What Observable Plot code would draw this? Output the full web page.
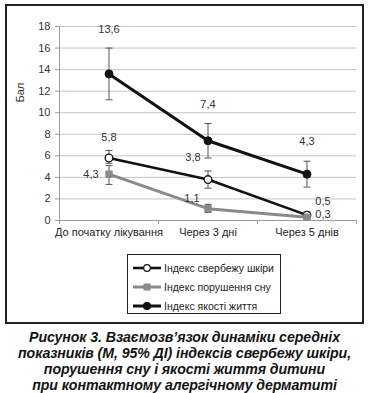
<!DOCTYPE html>
<html>
<head>
<meta charset="utf-8">
<script src="https://cdn.jsdelivr.net/npm/d3@7"></script>
<script src="https://cdn.jsdelivr.net/npm/@observablehq/plot@0.6"></script>
<style>
  body { margin: 0; width: 369px; height: 393px; background: #fff; position: relative; font-family: "Liberation Sans", Arial, sans-serif; overflow: hidden; }
  #frame { position: absolute; left: 5px; top: 4px; width: 355px; height: 316px; border: 2px solid #222; }
  #chart { position: absolute; left: 0; top: 0; }
  #legend { position: absolute; left: 120px; top: 248px; width: 154px; height: 60px; border: 1px solid #222; box-sizing: border-box; font-size: 10.5px; color: #222; }
  .item { position: absolute; left: 5px; height: 14px; display: flex; align-items: center; white-space: nowrap; }
  .item svg { margin-right: 2px; }
  #caption { position: absolute; left: 0; top: 329px; width: 369px; text-align: center; font-weight: bold; font-style: italic; font-size: 14.2px; line-height: 16px; color: #141414; letter-spacing: -0.1px; }
</style>
</head>
<body>
<div id="frame">
  <div id="chart"></div>
  <div id="legend"></div>
</div>
<div id="caption">Рисунок 3. Взаємозв’язок динаміки середніх<br>показників (М, 95% ДІ) індексів свербежу шкіри,<br>порушення сну і якості життя дитини<br>при контактному алергічному дерматиті</div>
<script>
// ---- data ----
const categories = ["До початку лікування", "Через 3 дні", "Через 5 днів"];
const seriesNames = ["Індекс свербежу шкіри", "Індекс порушення сну", "Індекс якості життя"];
const itch = [5.8, 3.8, 0.5];
const itchLo = [5.3, 3.0, 0.3];
const itchHi = [6.5, 4.6, 0.8];
const sleep = [4.3, 1.1, 0.3];
const sleepLo = [3.35, 0.75, 0.1];
const sleepHi = [5.1, 1.5, 0.5];
const quality = [13.6, 7.4, 4.3];
const qualityLo = [11.2, 5.8, 3.1];
const qualityHi = [16.0, 9.0, 5.5];
const yTicks = [0, 2, 4, 6, 8, 10, 12, 14, 16, 18];

// ---- styles (layout, not data) ----
const styles = [
  {stroke: "#111", width: 2.6, fill: "#fff", symbol: "circle", r: 3.8},
  {stroke: "#8a8a8a", width: 3, fill: "#8a8a8a", symbol: "square", r: 3.6},
  {stroke: "#111", width: 3, fill: "#111", symbol: "circle", r: 4}
];
// label offsets per series, per category [dx, dy, anchorOn]
const labelPlace = [
  [[0, -13, "hi"], [-15, -13, "hi"], [16, -14, "v"]],
  [[-18, 0, "v"], [-16, -10, "v"], [16, -3, "v"]],
  [[0, -19, "hi"], [0, -19, "hi"], [0, -20, "hi"]]
];

const vals = [itch, sleep, quality], los = [itchLo, sleepLo, qualityLo], his = [itchHi, sleepHi, qualityHi];
const rows = [];
vals.forEach((arr, s) => arr.forEach((v, i) => rows.push({s, i, x: i + 0.5, v, lo: los[s][i], hi: his[s][i],
  lab: String(v).replace(".", ","), ly: labelPlace[s][i][2] === "hi" ? his[s][i] : v,
  dx: labelPlace[s][i][0], dy: labelPlace[s][i][1]})));

const cap = {draw(ctx, size) { const w = 3.5; ctx.moveTo(-w, 0); ctx.lineTo(w, 0); }};

const marks = [
  Plot.gridY(yTicks, {stroke: "#c4c4c4", strokeOpacity: 1, strokeWidth: 1}),
  Plot.ruleY([0], {stroke: "#9a9a9a"}),
  Plot.ruleX([0], {stroke: "#9a9a9a", y1: 0, y2: 18}),
  Plot.axisY(yTicks, {tickSize: 4, tickPadding: 5, stroke: "#9a9a9a", fill: "#333", fontSize: 11, label: null, tickFormat: d => String(d)}),
  Plot.axisX([0, 1, 2, 3], {tickSize: 4, stroke: "#9a9a9a", tickFormat: () => "", label: null}),
  Plot.axisX([0.5, 1.5, 2.5], {tickSize: 0, tickPadding: 8, fill: "#222", fontSize: 11, label: null, tickFormat: d => categories[Math.floor(d)]}),
  Plot.text(["Бал"], {frameAnchor: "left", rotate: -90, dx: -39, dy: -21, fontSize: 11, fill: "#333"})
];
[0, 1, 2].forEach(s => {
  const d = rows.filter(r => r.s === s);
  const st = styles[s];
  marks.push(
    Plot.line(d, {x: "x", y: "v", stroke: st.stroke, strokeWidth: st.width}),
    Plot.ruleX(d, {x: "x", y1: "lo", y2: "hi", stroke: "#555", strokeWidth: 1}),
    Plot.dot(d, {x: "x", y: "lo", symbol: cap, stroke: "#555", strokeWidth: 1}),
    Plot.dot(d, {x: "x", y: "hi", symbol: cap, stroke: "#555", strokeWidth: 1}),
    Plot.dot(d, {x: "x", y: "v", symbol: st.symbol, r: st.r, fill: st.fill, stroke: st.stroke, strokeWidth: s === 0 ? 1.3 : 1})
  );
});
// per-label dx/dy via separate text marks (Plot dx/dy are constants)
rows.forEach(r => marks.push(Plot.text([r], {x: "x", y: "ly", text: "lab", dx: r.dx, dy: r.dy, fontSize: 11, fill: "#333"})));

const chart = Plot.plot({
  width: 355, height: 240,
  marginLeft: 52, marginRight: 6, marginTop: 20, marginBottom: 26,
  style: {fontFamily: "'Liberation Sans', Arial, sans-serif", background: "transparent"},
  x: {type: "linear", domain: [0, 3], axis: null},
  y: {domain: [0, 18], axis: null},
  marks
});
document.getElementById("chart").appendChild(chart);

// legend
const legend = document.getElementById("legend");
seriesNames.forEach((name, s) => {
  const st = styles[s];
  const item = document.createElement("div");
  item.className = "item";
  item.style.top = (6 + s * 19) + "px";
  const sym = st.symbol === "square"
    ? `<rect x="10.5" y="3.5" width="7" height="7" fill="${st.fill}"/>`
    : `<circle cx="14" cy="7" r="${s === 0 ? 3.3 : 3.5}" fill="${st.fill}" stroke="${st.stroke}" stroke-width="1.2"/>`;
  item.innerHTML = `<svg width="29" height="14"><line x1="0" x2="28" y1="7" y2="7" stroke="${st.stroke}" stroke-width="${st.width}"/>${sym}</svg><span>${name}</span>`;
  legend.appendChild(item);
});
</script>
</body>
</html>
